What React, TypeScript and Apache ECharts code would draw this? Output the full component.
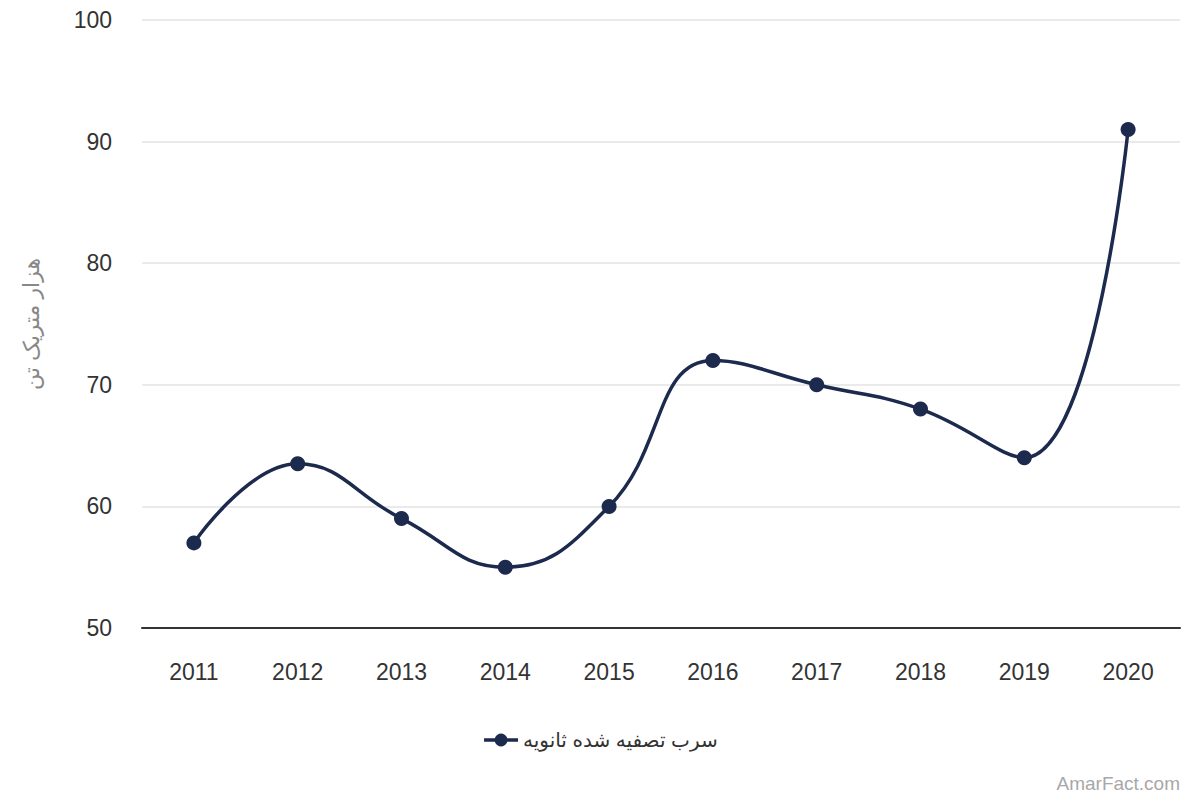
import React, { useEffect, useRef } from "react";
import * as echarts from "echarts";

const years = ["2011", "2012", "2013", "2014", "2015", "2016", "2017", "2018", "2019", "2020"];
const values = [57, 63.5, 59, 55, 60, 72, 70, 68, 64, 91];
const seriesName = "سرب تصفیه شده ثانویه";
const yAxisTitle = "هزار متریک تن";
const watermark = "AmarFact.com";

export default function App() {
  const ref = useRef<HTMLDivElement>(null);
  useEffect(() => {
    document.body.style.margin = "0";
    const chart = echarts.init(ref.current!, null, { renderer: "svg" });
    const font = "'Liberation Sans', Arial, 'DejaVu Sans', sans-serif";
    chart.setOption({
      animation: false,
      backgroundColor: "#ffffff",
      textStyle: { fontFamily: font },
      grid: { left: 142, right: 20, top: 20, bottom: 172, containLabel: false },
      legend: {
        bottom: 45,
        left: "center",
        itemWidth: 34,
        itemHeight: 16,
        itemGap: 10,
        lineStyle: { width: 3.5, color: "#1c2a4e" },
        itemStyle: { color: "#1c2a4e" },
        textStyle: { fontSize: 20, color: "#333333", fontFamily: font },
        data: [{ name: seriesName }],
      },
      graphic: [
        {
          type: "text",
          right: 20,
          bottom: 7,
          style: { text: watermark, fontSize: 19, fill: "#a8a8a8", fontFamily: font },
        },
      ],
      xAxis: {
        type: "category",
        data: years,
        boundaryGap: true,
        axisLine: { lineStyle: { color: "#333333", width: 2 } },
        axisTick: { show: false },
        axisLabel: { fontSize: 23, color: "#333333", margin: 32 },
      },
      yAxis: {
        type: "value",
        min: 50,
        max: 100,
        interval: 10,
        name: yAxisTitle,
        nameLocation: "middle",
        nameGap: 100,
        nameRotate: 90,
        nameTextStyle: { fontSize: 22, color: "#888888", fontFamily: font },
        axisLine: { show: false },
        axisTick: { show: false },
        axisLabel: { fontSize: 23, color: "#333333", margin: 30 },
        splitLine: { lineStyle: { color: "#e3e3e3", width: 1.5 } },
      },
      series: [
        {
          name: seriesName,
          type: "line",
          data: values,
          smooth: 0.45,
          symbol: "circle",
          symbolSize: 15,
          lineStyle: { color: "#1c2a4e", width: 3.5 },
          itemStyle: { color: "#1c2a4e" },
        },
      ],
    });
    return () => chart.dispose();
  }, []);
  return <div ref={ref} style={{ width: 1200, height: 800 }} />;
}
